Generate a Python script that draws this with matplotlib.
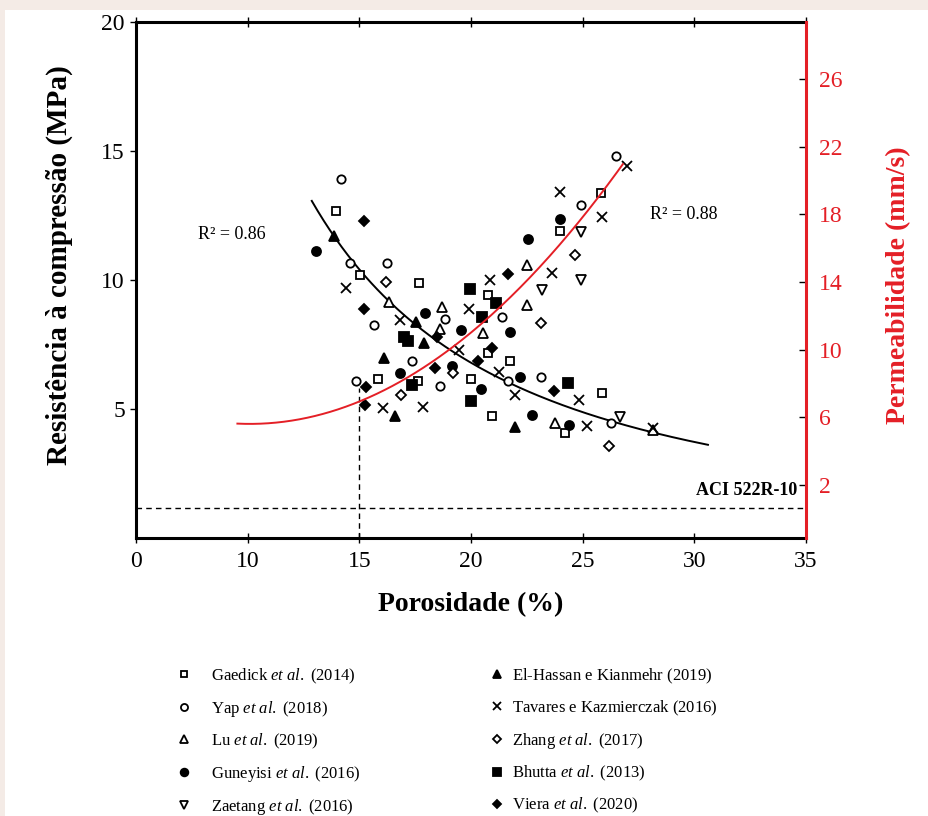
import numpy as np
import matplotlib
matplotlib.use('Agg')
import matplotlib.pyplot as plt
from matplotlib.patches import Rectangle

plt.rcParams['font.family'] = ['Liberation Serif', 'DejaVu Serif']
plt.rcParams['mathtext.fontset'] = 'custom'
plt.rcParams['mathtext.rm'] = 'Liberation Serif'
plt.rcParams['mathtext.it'] = 'Liberation Serif:italic'
plt.rcParams['mathtext.bf'] = 'Liberation Serif:bold'

RED = '#e41f26'
BG = '#f4ebe6'

# data: porosity (%) vs value in left-axis units
gaedick_x = [13.97, 15.03, 17.68, 20.01, 15.83, 17.62, 20.77, 20.75, 21.73, 23.97, 25.83, 25.86, 20.95, 24.22]
gaedick_y = [12.67, 10.19, 9.87, 6.16, 6.16, 6.10, 9.42, 7.18, 6.86, 11.91, 13.38, 5.61, 4.74, 4.06]

yap_x = [14.20, 14.57, 16.25, 15.65, 18.84, 17.37, 14.83, 18.60, 21.39, 21.64, 23.15, 26.28, 24.94, 26.50]
yap_y = [13.91, 10.65, 10.65, 8.26, 8.48, 6.86, 6.10, 5.89, 8.58, 6.10, 6.23, 4.45, 12.91, 14.81]

lu_x = [16.32, 18.69, 18.60, 22.51, 20.54, 22.51, 23.78, 28.17]
lu_y = [9.16, 8.97, 8.09, 10.58, 7.93, 9.03, 4.45, 4.19]

guneyisi_x = [13.06, 17.95, 19.57, 19.16, 16.81, 20.47, 21.76, 22.18, 22.73, 24.37, 24.00, 22.55]
guneyisi_y = [11.11, 8.73, 8.06, 6.67, 6.41, 5.76, 7.97, 6.23, 4.77, 4.38, 12.36, 11.59]

zaetang_x = [24.94, 24.94, 23.18, 26.65]
zaetang_y = [11.87, 10.00, 9.61, 4.70]

elhassan_x = [13.86, 17.52, 17.89, 16.10, 16.58, 21.99]
elhassan_y = [11.71, 8.38, 7.55, 6.97, 4.74, 4.31]

tavares_x = [14.39, 16.81, 19.92, 19.45, 16.07, 17.86, 21.24, 21.99, 24.82, 25.19, 28.17, 20.84, 23.63, 24.00, 25.86, 26.98]
tavares_y = [9.68, 8.45, 8.88, 7.29, 5.03, 5.09, 6.45, 5.54, 5.35, 4.34, 4.25, 10.00, 10.28, 13.42, 12.43, 14.42]

zhang_x = [16.19, 19.20, 16.88, 23.14, 24.67, 26.20]
zhang_y = [9.93, 6.41, 5.54, 8.32, 10.97, 3.58]

bhutta_x = [19.94, 16.99, 17.16, 17.37, 20.01, 21.12, 20.50, 24.34]
bhutta_y = [9.64, 7.80, 7.64, 5.92, 5.32, 9.10, 8.58, 6.02]

viera_x = [15.21, 15.21, 18.49, 18.41, 15.31, 15.25, 20.95, 20.30, 23.73, 21.64]
viera_y = [12.30, 8.88, 7.80, 6.58, 5.84, 5.16, 7.35, 6.87, 5.71, 10.23]

# points
strength_curve_x = [12.87, 13.86, 14.57, 15.03, 16.31, 19.44, 21.32, 24.89, 26.28, 28.16, 30.61]
strength_curve_y = [13.38, 11.71, 10.65, 10.19, 9.16, 7.29, 6.25, 4.77, 4.45, 4.12, 3.67]
perm_curve_x = [9.54, 15.01, 17.29, 18.78, 20.42, 21.32, 23.10, 24.94, 25.79, 26.80]
perm_curve_y = [5.49, 7.19, 8.37, 10.08, 11.46, 12.55, 14.72, 17.08, 19.05, 21.66]

x_ticks = [5, 10, 15, 20, 25, 30, 35]
x_labels = ['0', '10', '15', '20', '25', '30', '35']
left_ticks = [5, 10, 15, 20]
right_ticks = [2, 6, 10, 14, 18, 22, 26]
aci_limit = 1.16
vline_top = 5.8

fig = plt.figure(figsize=(9.29, 8.16), dpi=100, facecolor=BG)
fig.add_artist(Rectangle((5 / 929, 0), 1, 1 - 10 / 816, transform=fig.transFigure,
                         facecolor='white', edgecolor='none', zorder=-5))

ax = fig.add_axes([0.1464, 0.3407, 0.7212, 0.6324])
ax2 = ax.twinx()

ax.set_xlim(5, 35)
ax.set_ylim(0, 20)
ax2.set_ylim(-1.14, 29.39)

# trend lines
sx = np.linspace(min(strength_curve_x), max(strength_curve_x), 200)
pw = np.polyfit(np.log(strength_curve_x), np.log(strength_curve_y), 1)
ax.plot(sx, np.exp(np.polyval(pw, np.log(sx))), color='black', lw=1.4, zorder=2)

px = np.linspace(min(perm_curve_x), max(perm_curve_x), 200)
pq = np.polyfit(perm_curve_x, perm_curve_y, 2)
ax2.plot(px, np.polyval(pq, px), color=RED, lw=1.4, zorder=2)

# reference lines
ax.axhline(aci_limit, color='black', lw=1, ls=(0, (4, 3)))
ax.plot([15, 15], [0, vline_top], color='black', lw=1, ls=(0, (4, 3)))

studies = [
    (gaedick_x, gaedick_y, 's', False, 5.5, r'Gaedick $\mathit{et\ al.}\ \mathrm{(2014)}$'),
    (yap_x, yap_y, 'o', False, 6, r'Yap $\mathit{et\ al.}\ \mathrm{(2018)}$'),
    (lu_x, lu_y, '^', False, 6.5, r'Lu $\mathit{et\ al.}\ \mathrm{(2019)}$'),
    (guneyisi_x, guneyisi_y, 'o', True, 6.5, r'Guneyisi $\mathit{et\ al.}\ \mathrm{(2016)}$'),
    (zaetang_x, zaetang_y, 'v', False, 6.5, r'Zaetang $\mathit{et\ al.}\ \mathrm{(2016)}$'),
    (elhassan_x, elhassan_y, '^', True, 7, r'El-Hassan e Kianmehr $\mathrm{(2019)}$'),
    (tavares_x, tavares_y, 'x', True, 7.5, r'Tavares e Kazmierczak $\mathrm{(2016)}$'),
    (zhang_x, zhang_y, 'D', False, 5, r'Zhang $\mathit{et\ al.}\ \mathrm{(2017)}$'),
    (bhutta_x, bhutta_y, 's', True, 6.5, r'Bhutta $\mathit{et\ al.}\ \mathrm{(2013)}$'),
    (viera_x, viera_y, 'D', True, 5, r'Viera $\mathit{et\ al.}\ \mathrm{(2020)}$'),
]

handles = []
for xs, ys, mk, filled, ms, lab in studies:
    h, = ax.plot(xs, ys, ls='none', marker=mk, ms=ms, mec='black',
                 mfc='black' if filled else 'white', mew=1.3, label=lab, zorder=3)
    handles.append(h)

# texts
ax.text(7.77, 11.78, 'R² = 0.86', fontsize=13, va='center', ha='left')
ax.text(28.02, 12.52, 'R² = 0.88', fontsize=13, va='center', ha='left')
ax.text(34.6, 1.85, 'ACI 522R-10', fontsize=13, fontweight='bold', va='center', ha='right')

# axes styling
for side in ['left', 'top', 'bottom']:
    ax.spines[side].set_linewidth(2.2)
ax.spines['right'].set_visible(False)
for side in ['left', 'top', 'bottom']:
    ax2.spines[side].set_visible(False)
ax2.spines['right'].set_color(RED)
ax2.spines['right'].set_linewidth(2.2)

ax.set_xticks(x_ticks)
ax.set_xticklabels(x_labels)
ax.set_yticks(left_ticks)
ax.tick_params(axis='x', direction='inout', length=7, width=1, labelsize=17, pad=6, top=True)
ax.tick_params(axis='y', direction='out', length=4, width=1, labelsize=17, pad=4)
ax2.set_yticks(right_ticks)
ax2.tick_params(axis='y', direction='in', length=5, width=1, color='black',
                labelcolor=RED, labelsize=17, pad=9)

ax.set_xlabel('Porosidade (%)', fontsize=20, fontweight='bold', labelpad=14)
ax.set_ylabel('Resistência à compressão (MPa)', fontsize=21, fontweight='bold')
ax.yaxis.set_label_coords(-0.094, 0.529)
ax2.set_ylabel('Permeabilidade (mm/s)', fontsize=20, fontweight='bold', color=RED)
ax2.yaxis.set_label_coords(1.12, 0.49)

leg1 = fig.legend(handles=handles[:5], loc='upper left', bbox_to_anchor=(0.180, 0.1935),
                  frameon=False, fontsize=12, handlelength=1.0, handletextpad=1.1,
                  borderpad=0, labelspacing=0.78, markerscale=0.85)
leg2 = fig.legend(handles=handles[5:], loc='upper left', bbox_to_anchor=(0.517, 0.1935),
                  frameon=False, fontsize=12, handlelength=1.0, handletextpad=0.4,
                  borderpad=0, labelspacing=0.78, markerscale=0.85)

fig.savefig('out.png', dpi=100, facecolor=BG)
